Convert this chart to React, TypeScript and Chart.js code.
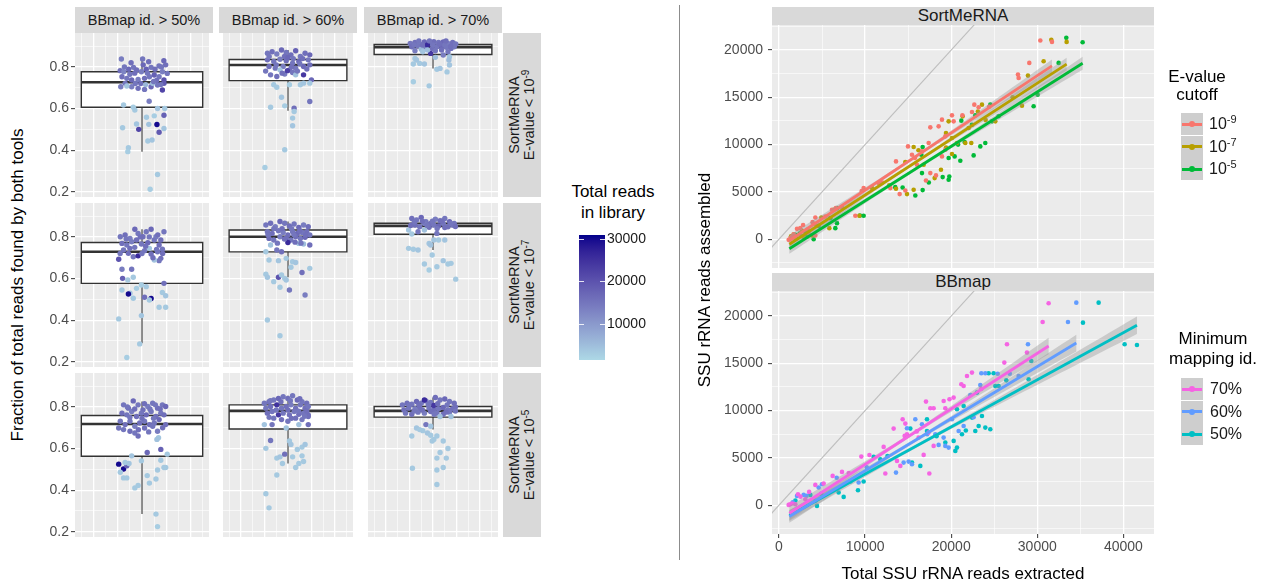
import React, { useEffect, useRef } from "react";
import { Chart, registerables } from "chart.js";
Chart.register(...registerables);

const FONT = '"Liberation Sans", Arial, Helvetica, sans-serif';
Chart.defaults.font.family = FONT;

// ---------------- LEFT: boxplot facets ----------------
const boxColLabels = ["BBmap id. > 50%", "BBmap id. > 60%", "BBmap id. > 70%"];
const boxRowExponents = ["-9", "-7", "-5"];
const boxYTicks = [0.2, 0.3, 0.4, 0.5, 0.6, 0.7, 0.8, 0.9];
const boxYMajor = [0.2, 0.4, 0.6, 0.8];
const boxXTicks = [-5, -4, -3, -2, -1, 0, 1, 2, 3, 4, 5];
const boxXMajor = [-4, -2, 0, 2, 4];
const boxYRange = [0.175, 0.963];
const boxXRange = [-5.52, 5.52];

// box stats: [whiskerLow, q1, median, q3, whiskerHigh]
const statsE9 = [
  [0.393, 0.606, 0.726, 0.777, 0.835],
  [0.59, 0.734, 0.809, 0.836, 0.881],
  [0.793, 0.86, 0.895, 0.908, 0.921],
];
const statsE7 = [
  [0.289, 0.577, 0.729, 0.773, 0.837],
  [0.606, 0.728, 0.801, 0.833, 0.874],
  [0.737, 0.813, 0.853, 0.866, 0.885],
];
const statsE5 = [
  [0.285, 0.563, 0.718, 0.759, 0.826],
  [0.528, 0.694, 0.781, 0.81, 0.854],
  [0.691, 0.751, 0.781, 0.802, 0.845],
];

// points: [jitter, fraction, total reads in library]
const ptsE9Id50 = [
  [-1.7,0.838,14000],[0.05,0.838,15000],[-1.8,0.782,16000],[-1.5,0.777,13000],[-1.1,0.789,17000],[-0.7,0.798,15000],[-0.45,0.785,16000],[-0.05,0.777,14000],[0.35,0.789,18000],[0.75,0.798,15000],[1.07,0.789,16000],[1.4,0.805,15000],[1.8,0.83,17000],[1.95,0.81,16000],[1.68,0.777,14000],[2.08,0.769,15000],[-1.65,0.753,16000],[-1.25,0.745,15000],[-0.85,0.737,17000],[-0.32,0.74,14000],[0.21,0.745,16000],[0.61,0.753,15000],[1.01,0.761,18000],[1.41,0.753,15000],[1.81,0.737,20000],[-1.39,0.721,15000],[-0.85,0.705,14000],[-0.32,0.697,16000],[0.21,0.692,15000],[0.75,0.705,17000],[1.28,0.713,15000],[1.81,0.721,19000],[1.68,0.689,22000],[-1.25,0.708,4000],[0.88,0.721,5000],
  [-1.0,0.765,15000],[-0.6,0.77,16000],[0.45,0.77,15000],[1.2,0.735,16000],[-1.45,0.8,15000],[0.1,0.81,17000],[0.95,0.73,15000],[-0.1,0.72,16000],[1.55,0.715,15000],[-1.75,0.705,14000],[0.55,0.825,16000],[1.6,0.8,15000],[-0.9,0.82,16000],[0.3,0.715,6000],[-0.55,0.72,15000],
  [-1.52,0.617,3500],[-0.72,0.606,3000],[-0.59,0.593,3500],[0.59,0.635,14000],[1.28,0.6,4000],[1.87,0.6,3500],[1.81,0.568,18000],[0.37,0.558,3500],[-0.45,0.526,4000],[1.01,0.565,3000],[-1.6,0.508,3500],[-0.27,0.5,22000],[0.56,0.524,4500],[1.23,0.523,30000],[1.41,0.486,19000],[1.81,0.504,4000],[0.48,0.444,3500],[0.83,0.449,4000],[-1.12,0.412,3500],[-1.17,0.393,3000],[1.28,0.283,3500],[0.67,0.212,3000],
];
const ptsE9Id60 = [
  [-1.75,0.866,15000],[-1.35,0.873,16000],[-0.95,0.862,14000],[-0.55,0.881,17000],[-0.15,0.869,15000],[0.25,0.858,16000],[0.65,0.878,18000],[1.05,0.85,15000],[1.45,0.866,16000],[1.85,0.858,17000],[-1.75,0.834,16000],[-1.21,0.826,15000],[-0.68,0.837,14000],[-0.15,0.83,16000],[0.39,0.818,15000],[0.92,0.826,17000],[1.72,0.834,15000],[-1.61,0.802,16000],[-1.08,0.794,15000],[-0.41,0.802,14000],[0.12,0.786,16000],[0.65,0.794,15000],[1.32,0.802,17000],[1.85,0.81,16000],[-1.48,0.762,15000],[-0.95,0.754,16000],[-0.28,0.766,14000],[0.39,0.773,15000],[1.32,0.762,24000],[1.99,0.738,17000],[-0.05,0.782,23000],[-0.68,0.786,4000],[0.65,0.762,4500],
  [-1.6,0.85,15000],[-0.3,0.85,16000],[0.45,0.84,15000],[1.25,0.84,16000],[-1.0,0.81,15000],[0.3,0.8,16000],[1.0,0.815,15000],[-0.5,0.77,16000],[0.8,0.78,15000],[1.6,0.79,16000],[-1.9,0.78,15000],[0.0,0.845,17000],
  [-1.21,0.714,3500],[-0.95,0.702,3500],[-0.55,0.654,4000],[-1.48,0.606,3500],[-0.28,0.613,3000],[0.52,0.602,16000],[0.52,0.586,3500],[0.39,0.554,3500],[0.39,0.517,4000],[1.85,0.634,15000],[1.05,0.714,3500],[1.32,0.722,4000],[1.85,0.722,3500],[0.12,0.714,3000],[-0.28,0.402,3500],[-1.96,0.317,3000],
];
const ptsE9Id70 = [
  [-1.93,0.913,15000],[-1.53,0.917,16000],[-1.13,0.91,14000],[-0.73,0.92,17000],[-0.33,0.913,15000],[0.07,0.921,16000],[0.47,0.917,15000],[0.87,0.92,17000],[1.27,0.913,14000],[1.67,0.917,16000],[1.93,0.91,15000],[-1.8,0.897,16000],[-1.27,0.901,15000],[-0.6,0.894,14000],[-0.07,0.889,16000],[0.33,0.897,15000],[0.73,0.901,17000],[1.13,0.894,15000],[1.53,0.889,16000],[1.8,0.897,15000],[-1.53,0.878,14000],[-1.0,0.885,6000],[0.2,0.878,15000],[0.73,0.881,16000],[1.27,0.873,15000],[0.87,0.857,14000],[0.2,0.846,5000],[1.4,0.849,4000],[-0.47,0.905,26000],[-0.2,0.865,24000],[-0.87,0.873,4000],[-0.47,0.881,5000],
  [-1.6,0.905,15000],[-0.9,0.905,16000],[0.0,0.905,15000],[0.55,0.91,16000],[1.0,0.905,15000],[1.5,0.9,16000],[-0.3,0.925,15000],[1.1,0.925,16000],[-1.2,0.925,15000],
  [-1.53,0.841,3500],[-1.13,0.817,3500],[-0.73,0.814,4000],[-1.67,0.814,3500],[-1.4,0.833,4000],[0.33,0.789,3500],[0.6,0.793,4000],[1.19,0.776,3500],[1.4,0.809,4000],[1.35,0.833,5000],[-1.67,0.729,3000],[-0.33,0.709,3500],
];
const ptsE7Id50 = [
  [-1.79,0.801,15000],[-1.39,0.809,16000],[-0.99,0.793,14000],[-0.59,0.837,17000],[-0.32,0.817,15000],[0.08,0.801,16000],[0.35,0.825,15000],[0.75,0.837,17000],[1.15,0.801,14000],[1.55,0.785,16000],[1.81,0.825,15000],[-1.65,0.769,16000],[-1.25,0.761,15000],[-0.85,0.777,14000],[-0.45,0.785,16000],[-0.05,0.766,15000],[0.48,0.772,17000],[1.01,0.785,15000],[1.41,0.761,16000],[1.68,0.741,15000],[-1.92,0.693,20000],[-1.52,0.737,15000],[-1.12,0.721,16000],[-0.72,0.705,15000],[-0.32,0.709,26000],[0.21,0.734,15000],[0.75,0.718,16000],[1.28,0.729,15000],[1.55,0.697,16000],[1.41,0.686,15000],[0.61,0.745,4000],[1.01,0.689,4500],
  [-1.3,0.79,15000],[-0.15,0.8,16000],[0.6,0.8,15000],[1.3,0.81,16000],[-0.6,0.75,15000],[0.3,0.755,16000],[1.2,0.74,15000],[-1.0,0.745,16000],[0.0,0.72,15000],[0.9,0.7,16000],[-1.8,0.72,15000],[1.7,0.72,16000],
  [-1.65,0.645,14000],[-0.85,0.645,15000],[-1.6,0.601,18000],[-1.17,0.593,3500],[-0.72,0.606,3500],[-0.05,0.569,3000],[0.35,0.561,3500],[1.81,0.577,16000],[-1.65,0.545,3500],[-0.99,0.529,4000],[-1.12,0.526,30000],[-0.72,0.505,3500],[-0.45,0.553,3000],[0.21,0.51,16000],[0.75,0.504,30000],[0.61,0.497,3500],[1.68,0.533,3500],[1.95,0.517,4000],[1.41,0.462,3500],[1.95,0.462,3500],[-1.92,0.406,3500],[-0.05,0.422,4000],[-0.19,0.286,3500],[-1.25,0.221,3000],
];
const ptsE7Id60 = [
  [-1.88,0.857,15000],[-1.48,0.866,16000],[-1.08,0.849,14000],[-0.68,0.874,17000],[-0.28,0.866,15000],[0.12,0.853,16000],[0.52,0.862,15000],[0.92,0.846,17000],[1.32,0.857,14000],[1.72,0.849,16000],[-1.75,0.825,15000],[-1.35,0.817,16000],[-0.81,0.83,15000],[-0.41,0.821,14000],[-0.01,0.809,16000],[0.39,0.825,15000],[0.79,0.817,17000],[1.19,0.821,15000],[1.59,0.825,16000],[1.85,0.809,15000],[-1.61,0.793,16000],[-1.21,0.785,15000],[-0.68,0.801,14000],[-0.15,0.793,16000],[0.25,0.785,15000],[0.65,0.801,16000],[1.05,0.793,15000],[1.45,0.798,17000],[1.85,0.761,16000],[-0.01,0.773,26000],[-0.95,0.737,15000],[-0.55,0.729,16000],[-1.48,0.761,4500],[0.92,0.769,4000],[1.32,0.766,5000],
  [-1.2,0.84,15000],[-0.5,0.84,16000],[0.3,0.84,15000],[1.0,0.83,16000],[-1.7,0.81,15000],[-0.3,0.79,16000],[0.5,0.81,15000],[1.5,0.81,16000],[-0.9,0.77,15000],[0.6,0.775,16000],[1.1,0.77,15000],
  [-1.88,0.729,3500],[-1.61,0.689,3500],[-0.81,0.686,4000],[-0.15,0.697,3500],[0.39,0.681,3500],[0.65,0.677,4000],[0.25,0.654,3500],[-1.88,0.621,3500],[-1.75,0.606,4000],[-1.21,0.585,3500],[-0.81,0.606,20000],[-0.55,0.617,3500],[-0.28,0.601,3500],[-0.15,0.593,4000],[-0.68,0.558,3500],[0.12,0.545,15000],[1.19,0.629,16000],[1.85,0.649,3500],[1.45,0.521,14000],[-1.75,0.401,3500],[-0.68,0.325,3500],
];
const ptsE7Id70 = [
  [-1.8,0.889,16000],[-1.4,0.881,15000],[-1.0,0.894,17000],[-0.6,0.873,15000],[-0.2,0.865,16000],[0.2,0.885,14000],[0.6,0.878,16000],[1.0,0.889,15000],[1.4,0.873,17000],[1.8,0.865,15000],[-1.53,0.857,16000],[-1.13,0.849,15000],[-0.73,0.865,14000],[-0.33,0.846,16000],[0.07,0.857,15000],[0.47,0.853,17000],[0.87,0.865,15000],[1.27,0.849,16000],[1.67,0.857,15000],[-1.27,0.825,15000],[-0.73,0.833,4500],[-0.33,0.769,4000],[-0.2,0.761,4500],[-2.07,0.833,4000],[-1.8,0.814,3500],[0.33,0.817,15000],[0.07,0.785,4000],[0.47,0.785,3500],[1.0,0.785,4000],
  [-1.6,0.87,15000],[-0.9,0.875,16000],[-0.05,0.875,15000],[0.75,0.875,16000],[1.5,0.865,15000],[-1.9,0.855,16000],[-0.5,0.855,15000],[1.0,0.845,16000],[0.35,0.84,15000],[1.9,0.85,16000],
  [-2.07,0.745,3500],[-1.67,0.741,3500],[-1.27,0.737,4000],[-0.07,0.713,3500],[-0.73,0.67,3500],[-0.33,0.641,3000],[0.33,0.657,3500],[0.87,0.686,4000],[1.27,0.67,3500],[1.53,0.673,3500],[1.93,0.597,3500],
];
const ptsE5Id50 = [
  [-1.52,0.81,15000],[-1.12,0.794,16000],[-0.72,0.829,17000],[-0.32,0.81,15000],[0.08,0.786,16000],[0.48,0.802,14000],[0.88,0.818,15000],[1.28,0.794,16000],[1.68,0.81,15000],[1.95,0.802,17000],[-1.65,0.77,16000],[-1.25,0.762,15000],[-0.85,0.778,14000],[-0.45,0.754,16000],[-0.05,0.77,15000],[0.35,0.762,17000],[0.75,0.778,15000],[1.15,0.754,16000],[1.55,0.77,15000],[1.81,0.762,16000],[-1.79,0.731,15000],[-1.39,0.715,16000],[-0.99,0.731,15000],[-0.59,0.707,14000],[-0.19,0.723,16000],[0.21,0.731,15000],[0.61,0.715,16000],[1.01,0.723,15000],[1.41,0.739,17000],[-1.52,0.691,15000],[-0.99,0.683,16000],[-0.59,0.675,15000],[0.21,0.699,16000],[0.88,0.707,15000],[1.28,0.683,14000],[1.95,0.715,16000],[-1.92,0.699,15000],[-0.32,0.66,16000],[1.36,0.652,4000],[1.23,0.644,4500],
  [-1.2,0.8,15000],[0.2,0.815,16000],[1.1,0.81,15000],[-0.6,0.79,16000],[0.65,0.79,15000],[1.5,0.79,16000],[-1.0,0.75,15000],[0.0,0.745,16000],[0.95,0.745,15000],[-0.3,0.69,16000],[0.55,0.68,15000],[1.7,0.7,16000],
  [1.55,0.596,18000],[0.43,0.581,17000],[-0.85,0.565,4000],[-0.05,0.541,3500],[-1.92,0.525,30000],[-1.52,0.502,30000],[-1.25,0.517,18000],[-1.39,0.533,3500],[-1.07,0.528,4000],[-1.79,0.486,3500],[-1.52,0.459,3500],[-1.25,0.459,3500],[-0.59,0.411,3500],[-0.32,0.423,3500],[0.43,0.47,3500],[0.61,0.434,3500],[1.15,0.454,3500],[1.55,0.544,3500],[1.81,0.509,3500],[1.95,0.509,3500],[1.28,0.497,3500],[2.08,0.573,3500],[1.15,0.285,3500],[1.28,0.225,3000],
];
const ptsE5Id60 = [
  [-2.01,0.818,15000],[-1.61,0.825,16000],[-1.21,0.833,15000],[-0.81,0.841,17000],[-0.41,0.849,15000],[-0.01,0.841,16000],[0.39,0.854,15000],[0.79,0.833,17000],[1.19,0.825,15000],[1.59,0.818,16000],[-1.88,0.794,15000],[-1.48,0.802,16000],[-0.95,0.81,25000],[-0.55,0.794,15000],[-0.15,0.802,16000],[0.25,0.81,14000],[0.65,0.794,16000],[1.05,0.81,15000],[1.45,0.794,16000],[1.72,0.802,15000],[-1.75,0.77,16000],[-1.35,0.778,15000],[-0.81,0.762,24000],[-0.41,0.77,15000],[0.12,0.762,16000],[0.52,0.778,15000],[0.92,0.765,16000],[1.32,0.77,15000],[1.72,0.762,16000],[-1.21,0.746,15000],[-0.55,0.739,16000],[-0.01,0.731,15000],[0.65,0.746,16000],[1.19,0.739,15000],[1.72,0.754,16000],[-2.01,0.715,4000],[-1.35,0.715,15000],[-0.15,0.699,4000],[0.92,0.715,4500],[1.72,0.715,16000],
  [-1.5,0.83,15000],[-0.6,0.825,16000],[0.2,0.83,15000],[1.0,0.84,16000],[-1.0,0.785,15000],[0.0,0.785,16000],[0.9,0.78,15000],[1.6,0.78,16000],[-1.6,0.75,15000],[0.3,0.745,16000],[1.4,0.755,15000],
  [-1.48,0.639,15000],[-1.88,0.601,3500],[-0.95,0.554,3500],[-0.68,0.56,4000],[-0.47,0.528,3500],[-0.28,0.573,16000],[0.12,0.636,3500],[0.25,0.62,4000],[0.39,0.56,3500],[0.79,0.596,3500],[1.19,0.607,3500],[1.45,0.62,4000],[1.19,0.565,3500],[1.32,0.538,3500],[0.92,0.528,3500],[0.65,0.509,3500],[-0.95,0.473,3500],[-1.88,0.383,3500],[-1.61,0.315,3500],
];
const ptsE5Id70 = [
  [-2.6,0.81,15000],[-2.2,0.818,16000],[-1.8,0.813,15000],[-1.4,0.826,17000],[-1.0,0.818,15000],[-0.6,0.829,16000],[-0.2,0.822,15000],[0.2,0.845,16000],[0.6,0.833,15000],[1.0,0.838,17000],[1.4,0.826,15000],[1.8,0.818,16000],[-2.47,0.786,16000],[-2.07,0.794,15000],[-1.53,0.791,14000],[-1.13,0.797,16000],[-0.73,0.833,26000],[-0.33,0.794,15000],[0.07,0.786,16000],[0.47,0.791,15000],[0.87,0.797,17000],[1.27,0.786,15000],[1.67,0.791,16000],[-2.33,0.77,15000],[-1.8,0.765,16000],[-1.27,0.775,15000],[-0.73,0.77,14000],[-0.2,0.778,16000],[0.33,0.77,15000],[0.87,0.765,16000],[1.4,0.775,15000],[1.53,0.754,4500],[0.07,0.807,24000],[0.6,0.754,4500],[-0.6,0.715,15000],
  [-2.0,0.81,15000],[-1.2,0.81,16000],[-0.4,0.81,15000],[0.4,0.815,16000],[1.2,0.81,15000],[1.9,0.8,16000],[-1.6,0.78,15000],[-0.9,0.785,16000],[0.1,0.765,15000],[1.1,0.775,16000],[1.9,0.78,15000],
  [-1.8,0.66,3500],[-1.4,0.699,4000],[-1.13,0.691,3500],[-0.87,0.686,3500],[-0.47,0.675,4000],[-0.2,0.664,3500],[0.07,0.644,3500],[0.33,0.66,3500],[-0.07,0.636,3500],[0.87,0.636,3500],[1.27,0.6,3500],[0.6,0.581,3500],[0.33,0.554,3500],[1.13,0.554,3500],[0.87,0.509,3500],[0.33,0.497,3500],[-1.75,0.505,3500],[0.33,0.427,3500],[-0.2,0.707,4000],
];

const boxPoints = [
  [ptsE9Id50, ptsE9Id60, ptsE9Id70],
  [ptsE7Id50, ptsE7Id60, ptsE7Id70],
  [ptsE5Id50, ptsE5Id60, ptsE5Id70],
];
const boxStats = [statsE9, statsE7, statsE5];

// colour scale
const readsRange = [1530, 30940];
const colorbarTicks = [10000, 20000, 30000];
const readsLow = "#ADD8E6";
const readsHigh = "#00008B";

// ---------------- RIGHT: scatter facets ----------------
const sortLabels = ["-9", "-7", "-5"];
const bbLabels = ["70%", "60%", "50%"];
const sortColors = ["#F8766D", "#B79F00", "#00BA38"];
const bbColors = ["#F564E3", "#619CFF", "#00BFC4"];
const scatXRange = [-813, 43554];
const scatYRange = [-3050, 22650];
const scatXTicks = [0, 5000, 10000, 15000, 20000, 25000, 30000, 35000, 40000];
const scatXMajor = [0, 10000, 20000, 30000, 40000];
const scatYTicks = [-2500, 0, 2500, 5000, 7500, 10000, 12500, 15000, 17500, 20000, 22500];
const scatYMajor = [0, 5000, 10000, 15000, 20000];
const identityLine = [-5000, 45000];

// [extracted, assembled]
const sortE9 = [
  [30349,21006],[31704,20865],[29071,18640],[27755,17404],[27832,17051],[22684,14227],[23187,13944],[18929,12638],[20090,13097],[20284,12461],[17574,11825],[18542,11931],[19316,10872],[14981,9813],[17381,10166],[19316,9460],[13587,8224],[15445,8930],[16026,7871],[18929,8753],[17071,6211],[17574,6988],[18232,6741],[9832,5399],[11574,5929],[12929,5399],[14013,4764],[14671,5152],[8865,2469],[6155,3104],[4219,2292],[5381,2398],[2090,1091],[2477,1162],[3445,632],[1316,103],[1510,280],[1897,32],[4219,385],[1703,527],[1123,-74],[22413,13450],[16607,9283],
  [2800,1500],[3900,1800],[6600,3300],[7300,3400],[12000,6000],[15800,8600],[21300,13100],[24400,14000],[9600,5100],
];
const sortE7 = [
  [31627,21077],[33407,20865],[30736,18817],[28916,17298],[28220,14121],[27136,15003],[23574,14227],[21329,12991],[19703,12461],[19394,11225],[20090,10696],[22026,11755],[15639,9742],[20671,10166],[21639,10166],[22336,10166],[14671,8153],[16800,7871],[20090,9001],[18077,6458],[18813,7341],[10800,5399],[13587,5328],[14865,4764],[15639,5223],[9329,2469],[6348,3104],[4916,2292],[5845,1162],[2671,879],[3832,385],[2090,103],[2864,174],[25123,12461],
  [1400,300],[1700,500],[3300,1000],[4200,1600],[12800,5700],[16200,9400],[19400,9700],[23100,13500],[24000,12600],
];
const sortE5 = [
  [33368,21289],[35265,20830],[32478,18640],[30039,15286],[29574,14051],[24542,14227],[21174,12532],[22800,13097],[22413,12108],[24736,12461],[16684,9742],[21561,10272],[23381,9813],[23961,10166],[16529,8930],[16607,6988],[19703,8577],[20400,8753],[21058,8294],[22607,8860],[19007,6564],[19703,6282],[19781,6635],[14361,5470],[15832,4622],[16684,5187],[9832,2469],[6735,3281],[5961,2221],[6542,1162],[6735,1691],[3058,808],[4026,-4],[3252,280],[1897,455],
  [1600,200],[2400,600],[4600,1400],[9400,2500],[13500,5500],[17400,6000],[20800,10000],[25500,13000],
];
const bbId70 = [
  [31316,21348],[30620,19375],[26478,17014],[26168,15075],[28800,16133],[22413,14018],[21832,13666],[21445,12609],[21174,12785],[20284,11375],[19123,11023],[17071,10952],[17574,10248],[17961,10248],[14361,9085],[14671,8626],[14593,7323],[14865,7499],[13316,8098],[12155,6160],[13703,4680],[14090,4151],[12348,3341],[17458,3341],[16800,5314],[17961,6265],[9561,5138],[7316,3517],[6232,3094],[4219,2142],[5187,2283],[2206,1156],[3058,627],[1316,98],[1510,169],[1897,98],[1123,28],[19316,10248],[16219,7146],[17381,7675],
  [2500,900],[3500,1400],[8100,3400],[10500,5300],[16000,7800],[19800,11200],[23500,12300],
];
const bbId60 = [
  [34530,21419],[33562,19375],[28916,17014],[23497,13948],[23961,13948],[23381,12714],[22220,11657],[20090,9085],[19316,6265],[19703,6089],[18542,6371],[19123,7146],[18155,7499],[15832,9085],[14865,8133],[16607,8556],[14477,4504],[15058,4609],[15445,4327],[13587,3446],[9252,2389],[4994,2213],[4606,1860],[2864,1085],[4219,451],[2090,979],[20865,7851],[21445,8380],[27832,13666],
  [1600,300],[3200,1000],[6700,2900],[10200,4000],[17200,7500],[22600,9300],[25400,13900],[26800,13900],
];
const bbId50 = [
  [37123,21419],[35304,19304],[40143,17014],[41574,16943],[28994,13313],[29303,15252],[24929,13948],[24349,13948],[25510,12609],[25123,12609],[22994,11904],[21445,10494],[20671,10142],[22413,9261],[23574,9437],[22800,7851],[23187,8380],[23961,8204],[24542,8028],[20284,6794],[20478,5737],[20671,6089],[19316,6618],[17187,9085],[15252,8098],[16413,4151],[15445,4504],[11768,4856],[10994,5103],[9832,2495],[9174,1579],[7510,874],[6929,1332],[4413,-78],[3639,1085],[17187,7851],[21252,7499],
  [1900,500],[4900,1200],[8300,2500],[12600,5200],[18300,7300],[21700,7900],[26400,13200],
];

// linear fits: [xStart, xEnd, intercept, slope, xMean, seAtMean, seAtEnd]
const sortFitE9 = [1200, 31704, -871, 0.6054, 15000, 160, 680];
const sortFitE7 = [1200, 33407, -1251, 0.5916, 15500, 160, 680];
const sortFitE5 = [1200, 35265, -1711, 0.576, 16000, 160, 680];
const bbFit70 = [1200, 31316, -1555, 0.5873, 15000, 180, 880];
const bbFit60 = [1200, 34530, -1859, 0.5503, 15500, 180, 880];
const bbFit50 = [1200, 41574, -1684, 0.498, 16500, 180, 930];

// ---------------- helpers ----------------
function hexToRgb(h: string) {
  const n = parseInt(h.slice(1), 16);
  return [(n >> 16) & 255, (n >> 8) & 255, n & 255];
}
const toLin = (c: number) => { c /= 255; return c <= 0.04045 ? c / 12.92 : Math.pow((c + 0.055) / 1.055, 2.4); };
const fromLin = (c: number) => {
  const v = c <= 0.0031308 ? 12.92 * c : 1.055 * Math.pow(Math.max(c, 0), 1 / 2.4) - 0.055;
  return Math.max(0, Math.min(255, Math.round(v * 255)));
};
const WX = 0.95047, WZ = 1.08883;
function rgbToLab(rgb: number[]) {
  const [r, g, b] = rgb.map(toLin);
  const x = (0.4124564 * r + 0.3575761 * g + 0.1804375 * b) / WX;
  const y = 0.2126729 * r + 0.7151522 * g + 0.072175 * b;
  const z = (0.0193339 * r + 0.119192 * g + 0.9503041 * b) / WZ;
  const f = (t: number) => (t > 0.008856 ? Math.cbrt(t) : 7.787 * t + 16 / 116);
  const fx = f(x), fy = f(y), fz = f(z);
  return [116 * fy - 16, 500 * (fx - fy), 200 * (fy - fz)];
}
function labToRgb(lab: number[]) {
  const [L, a, b] = lab;
  const fy = (L + 16) / 116, fx = fy + a / 500, fz = fy - b / 200;
  const finv = (t: number) => (t * t * t > 0.008856 ? t * t * t : (t - 16 / 116) / 7.787);
  const x = finv(fx) * WX, y = finv(fy), z = finv(fz) * WZ;
  const r = 3.2404542 * x - 1.5371385 * y - 0.4985314 * z;
  const g = -0.969266 * x + 1.8760108 * y + 0.041556 * z;
  const bb = 0.0556434 * x - 0.2040259 * y + 1.0572252 * z;
  return [fromLin(r), fromLin(g), fromLin(bb)];
}
const labLow = rgbToLab(hexToRgb(readsLow));
const labHigh = rgbToLab(hexToRgb(readsHigh));
function rampColor(t: number) {
  t = Math.max(0, Math.min(1, t));
  const lab = labLow.map((v, i) => v + (labHigh[i] - v) * t);
  const [r, g, b] = labToRgb(lab);
  return `rgb(${r},${g},${b})`;
}
const readsColor = (v: number) => rampColor((v - readsRange[0]) / (readsRange[1] - readsRange[0]));

const panelBg = {
  id: "panelBg",
  beforeDraw(chart: any) {
    const { ctx, chartArea: a } = chart;
    ctx.save();
    ctx.fillStyle = "#EBEBEB";
    ctx.fillRect(a.left, a.top, a.right - a.left, a.bottom - a.top);
    ctx.restore();
  },
};

function gridScale(o: any) {
  const isMajor = (v: number) => o.major.some((m: number) => Math.abs(m - v) < 1e-9);
  return {
    type: "linear",
    position: o.position,
    min: o.min,
    max: o.max,
    offset: false,
    border: { display: false },
    grid: {
      display: true,
      drawOnChartArea: true,
      offset: false,
      color: "#FFFFFF",
      lineWidth: (c: any) => (c.tick && isMajor(c.tick.value) ? 1.3 : 0.6),
      drawTicks: !!o.labels,
      tickLength: 4,
      tickWidth: 1,
      tickColor: (c: any) => (c.tick && isMajor(c.tick.value) ? "#333333" : "rgba(0,0,0,0)"),
    },
    ticks: {
      display: !!o.labels,
      autoSkip: false,
      maxRotation: 0,
      minRotation: 0,
      padding: o.pad ?? 2,
      color: "#4D4D4D",
      font: { family: FONT, size: 14 },
      callback: (v: number) => (isMajor(v) ? o.fmt(v) : ""),
    },
    afterBuildTicks: (s: any) => {
      s.ticks = o.ticks.map((v: number) => ({ value: v }));
    },
    afterFit: (s: any) => {
      if (o.axis === "y") s.width = o.size;
      else s.height = o.size;
      s.paddingTop = 0; s.paddingBottom = 0; s.paddingLeft = 0; s.paddingRight = 0;
    },
  };
}

const baseOptions = (padding: any) => ({
  responsive: false,
  animation: false,
  devicePixelRatio: 1,
  events: [],
  layout: { padding },
  plugins: { legend: { display: false }, tooltip: { enabled: false }, colors: { enabled: false } },
});

const BOX_HALF = 5;
function boxPanelConfig(points: number[][], s: number[], showY: boolean) {
  const lineDs = (data: any[], width: number, order: number, extra: any = {}) => ({
    type: "line", data, borderColor: "#333333", borderWidth: width, pointRadius: 0, fill: false, order,
    borderCapStyle: "butt", borderJoinStyle: "miter", ...extra,
  });
  return {
    type: "scatter",
    data: {
      datasets: [
        {
          type: "scatter",
          data: points.map((p) => ({ x: p[0], y: p[1] })),
          pointRadius: 2.7,
          pointBackgroundColor: points.map((p) => readsColor(p[2])),
          pointBorderWidth: 0,
          pointBorderColor: "rgba(0,0,0,0)",
          order: 0,
        },
        lineDs([{ x: 0, y: s[0] }, { x: 0, y: s[1] }], 1.1, 4),
        lineDs([{ x: 0, y: s[3] }, { x: 0, y: s[4] }], 1.1, 4),
        lineDs(
          [{ x: -BOX_HALF, y: s[1] }, { x: BOX_HALF, y: s[1] }, { x: BOX_HALF, y: s[3] }, { x: -BOX_HALF, y: s[3] }, { x: -BOX_HALF, y: s[1] }],
          1.4, 3, { fill: "shape", backgroundColor: "#FFFFFF", borderCapStyle: "square" }
        ),
        lineDs([{ x: -BOX_HALF, y: s[2] }, { x: BOX_HALF, y: s[2] }], 2.6, 2),
      ],
    },
    options: {
      ...baseOptions({ top: 8, bottom: 8, left: 0, right: 0 }),
      scales: {
        x: gridScale({ axis: "x", position: "bottom", min: boxXRange[0], max: boxXRange[1], ticks: boxXTicks, major: boxXMajor, labels: false, size: 0, fmt: String }),
        y: gridScale({ axis: "y", position: "left", min: boxYRange[0], max: boxYRange[1], ticks: boxYTicks, major: boxYMajor, labels: showY, size: showY ? 45 : 0, pad: 2, fmt: (v: number) => v.toFixed(1) }),
      },
    },
    plugins: [panelBg],
  };
}

function bandPolygon(f: number[]) {
  const [x0, x1, a, b, xm, h0, hEnd] = f;
  const k = Math.sqrt(hEnd * hEnd - h0 * h0) / (x1 - xm);
  const hw = (x: number) => Math.sqrt(h0 * h0 + k * k * (x - xm) * (x - xm));
  const n = 40;
  const up: any[] = [], lo: any[] = [];
  for (let i = 0; i <= n; i++) {
    const x = x0 + ((x1 - x0) * i) / n;
    up.push({ x, y: a + b * x + hw(x) });
    lo.push({ x, y: a + b * x - hw(x) });
  }
  return [...up, ...lo.reverse()];
}

function scatterConfig(series: number[][][], colors: string[], fits: number[][], showX: boolean) {
  const datasets: any[] = [
    {
      type: "line",
      data: identityLine.map((v) => ({ x: v, y: v })),
      borderColor: "#BEBEBE",
      borderWidth: 1.1,
      pointRadius: 0,
      fill: false,
      order: 5,
    },
  ];
  series.forEach((s, i) => {
    datasets.push({
      type: "scatter",
      data: s.map((p) => ({ x: p[0], y: p[1] })),
      pointRadius: 2.3,
      pointBackgroundColor: colors[i],
      pointBorderWidth: 0,
      pointBorderColor: "rgba(0,0,0,0)",
      order: 4,
    });
  });
  fits.forEach((f, i) => {
    datasets.push({
      type: "line",
      data: bandPolygon(f),
      backgroundColor: "rgba(153,153,153,0.4)",
      borderWidth: 0,
      borderColor: "rgba(0,0,0,0)",
      fill: "shape",
      pointRadius: 0,
      order: 2,
    });
    datasets.push({
      type: "line",
      data: [{ x: f[0], y: f[2] + f[3] * f[0] }, { x: f[1], y: f[2] + f[3] * f[1] }],
      borderColor: colors[i],
      borderWidth: 2.8,
      pointRadius: 0,
      fill: false,
      order: 1,
    });
  });
  return {
    type: "scatter",
    data: { datasets },
    options: {
      ...baseOptions({ top: 8, bottom: 8, left: 0, right: 8 }),
      scales: {
        x: gridScale({ axis: "x", position: "bottom", min: scatXRange[0], max: scatXRange[1], ticks: scatXTicks, major: scatXMajor, labels: showX, size: showX ? 22 : 0, pad: 1, fmt: (v: number) => String(v) }),
        y: gridScale({ axis: "y", position: "left", min: scatYRange[0], max: scatYRange[1], ticks: scatYTicks, major: scatYMajor, labels: true, size: 60, pad: 5, fmt: (v: number) => String(v) }),
      },
    },
    plugins: [panelBg],
  };
}

const colorbarTickPlugin = {
  id: "cbTicks",
  afterDatasetsDraw(chart: any) {
    const { ctx, chartArea: a, scales } = chart;
    ctx.save();
    ctx.strokeStyle = "rgba(255,255,255,0.85)";
    ctx.lineWidth = 1;
    colorbarTicks.forEach((v) => {
      const y = Math.round(scales.y.getPixelForValue(v)) + 0.5;
      ctx.beginPath();
      ctx.moveTo(a.left, y); ctx.lineTo(a.left + 5, y);
      ctx.moveTo(a.right - 5, y); ctx.lineTo(a.right, y);
      ctx.stroke();
    });
    ctx.restore();
  },
};

function colorbarConfig() {
  return {
    type: "bar",
    data: {
      labels: [""],
      datasets: [
        {
          data: [[readsRange[0], readsRange[1]]],
          backgroundColor: (c: any) => {
            const a = c.chart.chartArea;
            if (!a) return readsHigh;
            const g = c.chart.ctx.createLinearGradient(0, a.bottom, 0, a.top);
            for (let i = 0; i <= 24; i++) g.addColorStop(i / 24, rampColor(i / 24));
            return g;
          },
          borderWidth: 0,
          barPercentage: 1,
          categoryPercentage: 1,
        },
      ],
    },
    options: {
      ...baseOptions({ top: 5, bottom: 5, left: 0, right: 0 }),
      scales: {
        x: { display: false },
        y: {
          type: "linear",
          position: "right",
          min: readsRange[0],
          max: readsRange[1],
          border: { display: false },
          grid: { display: false, drawTicks: false },
          ticks: { padding: 2, color: "#1A1A1A", font: { family: FONT, size: 14 }, callback: (v: number) => String(v) },
          afterBuildTicks: (s: any) => { s.ticks = colorbarTicks.map((v) => ({ value: v })); },
          afterFit: (s: any) => { s.width = 64; s.paddingTop = 0; s.paddingBottom = 0; },
        },
      },
    },
    plugins: [colorbarTickPlugin],
  };
}

function ChartBox({ left, top, width, height, make }: any) {
  const ref = useRef<HTMLCanvasElement>(null);
  useEffect(() => {
    const chart = new Chart(ref.current as HTMLCanvasElement, make() as any);
    return () => chart.destroy();
  }, []);
  return (
    <div style={{ position: "absolute", left, top, width, height }}>
      <canvas ref={ref} width={width} height={height} style={{ width, height, display: "block" }} />
    </div>
  );
}

// layout constants
const COL_LEFT = [75, 219, 364];
const PANEL_W = 138;
const ROW_TOP = [33, 203, 373];
const PANEL_H = 164;
const SC_LEFT = 772, SC_W = 382, SC_H = 243;
const SC_TOP = [25, 291];

const stripStyle: any = { position: "absolute", background: "#D9D9D9", color: "#1A1A1A", display: "flex", alignItems: "center", justifyContent: "center", whiteSpace: "nowrap" };

function LegendKey({ left, top, color }: any) {
  return (
    <div style={{ position: "absolute", left, top, width: 22, height: 22, background: "#CECECE" }}>
      <div style={{ position: "absolute", left: 1, right: 1, top: 9.5, height: 3, background: color }} />
      <div style={{ position: "absolute", left: 8, top: 8, width: 6, height: 6, borderRadius: 3, background: color }} />
    </div>
  );
}

export default function App() {
  return (
    <div style={{ position: "absolute", left: 0, top: 0, width: 1266, height: 586, background: "#FFFFFF", fontFamily: FONT, overflow: "hidden" }}>
      {/* left y title */}
      <div style={{ position: "absolute", left: 18 - 220, top: 285 - 11, width: 440, height: 22, lineHeight: "22px", textAlign: "center", transform: "rotate(-90deg)", fontSize: 17, color: "#000" }}>
        Fraction of total reads found by both tools
      </div>

      {/* top strips */}
      {boxColLabels.map((lab, c) => (
        <div key={"ts" + c} style={{ ...stripStyle, left: COL_LEFT[c], top: 7, width: PANEL_W, height: 26, fontSize: 14.5 }}>{lab}</div>
      ))}
      {/* right strips */}
      {boxRowExponents.map((e, r) => (
        <div key={"rs" + r} style={{ ...stripStyle, left: 503, top: ROW_TOP[r], width: 38, height: PANEL_H }}>
          <div style={{ transform: "rotate(-90deg)", fontSize: 14.5, lineHeight: "15px", textAlign: "center", whiteSpace: "nowrap" }}>
            <div>SortMeRNA</div>
            <div>E-value &lt; 10<sup style={{ fontSize: 10, lineHeight: 0 }}>{e}</sup></div>
          </div>
        </div>
      ))}

      {boxPoints.map((row, r) =>
        row.map((pts, c) => (
          <ChartBox
            key={`bx${r}${c}`}
            left={COL_LEFT[c] - (c === 0 ? 45 : 0)}
            top={ROW_TOP[r] - 8}
            width={PANEL_W + (c === 0 ? 45 : 0)}
            height={PANEL_H + 16}
            make={() => boxPanelConfig(pts, boxStats[r][c], c === 0)}
          />
        ))
      )}

      {/* colour legend */}
      <div style={{ position: "absolute", left: 560, top: 181, width: 106, textAlign: "center", fontSize: 17, lineHeight: "21px", color: "#000" }}>
        Total reads<br />in library
      </div>
      <ChartBox left={579} top={230} width={90} height={135} make={colorbarConfig} />

      {/* divider */}
      <div style={{ position: "absolute", left: 679, top: 5, width: 1, height: 555, background: "#8C8C8C" }} />

      {/* scatter strips */}
      <div style={{ ...stripStyle, left: SC_LEFT, top: 7, width: SC_W, height: 18, fontSize: 17 }}>SortMeRNA</div>
      <div style={{ ...stripStyle, left: SC_LEFT, top: 273, width: SC_W, height: 18, fontSize: 17 }}>BBmap</div>

      <ChartBox left={SC_LEFT - 60} top={SC_TOP[0] - 8} width={60 + SC_W + 8} height={SC_H + 16}
        make={() => scatterConfig([sortE9, sortE7, sortE5], sortColors, [sortFitE9, sortFitE7, sortFitE5], false)} />
      <ChartBox left={SC_LEFT - 60} top={SC_TOP[1] - 8} width={60 + SC_W + 8} height={SC_H + 16 + 22}
        make={() => scatterConfig([bbId70, bbId60, bbId50], bbColors, [bbFit70, bbFit60, bbFit50], true)} />

      {/* scatter titles */}
      <div style={{ position: "absolute", left: 705 - 150, top: 280 - 11, width: 300, height: 22, lineHeight: "22px", textAlign: "center", transform: "rotate(-90deg)", fontSize: 17, color: "#000" }}>
        SSU rRNA reads assembled
      </div>
      <div style={{ position: "absolute", left: 963 - 200, top: 563, width: 400, height: 22, lineHeight: "22px", textAlign: "center", fontSize: 17, color: "#000" }}>
        Total SSU rRNA reads extracted
      </div>

      {/* E-value legend */}
      <div style={{ position: "absolute", left: 1150, top: 68, width: 94, textAlign: "center", fontSize: 17, lineHeight: "18px", color: "#000" }}>
        E-value<br />cutoff
      </div>
      {sortLabels.map((e, i) => (
        <React.Fragment key={"sl" + i}>
          <LegendKey left={1181} top={113 + i * 22.5} color={sortColors[i]} />
          <div style={{ position: "absolute", left: 1209, top: 113 + i * 22.5, height: 22, lineHeight: "22px", fontSize: 16, color: "#1A1A1A", whiteSpace: "nowrap" }}>
            10<sup style={{ fontSize: 11, lineHeight: 0 }}>{e}</sup>
          </div>
        </React.Fragment>
      ))}

      {/* mapping id legend */}
      <div style={{ position: "absolute", left: 1158, top: 329, width: 110, textAlign: "center", fontSize: 17, lineHeight: "20px", color: "#000" }}>
        Minimum<br />mapping id.
      </div>
      {bbLabels.map((lab, i) => (
        <React.Fragment key={"bl" + i}>
          <LegendKey left={1181} top={378 + i * 22.5} color={bbColors[i]} />
          <div style={{ position: "absolute", left: 1210, top: 378 + i * 22.5, height: 22, lineHeight: "22px", fontSize: 16, color: "#1A1A1A", whiteSpace: "nowrap" }}>
            {lab}
          </div>
        </React.Fragment>
      ))}
    </div>
  );
}
